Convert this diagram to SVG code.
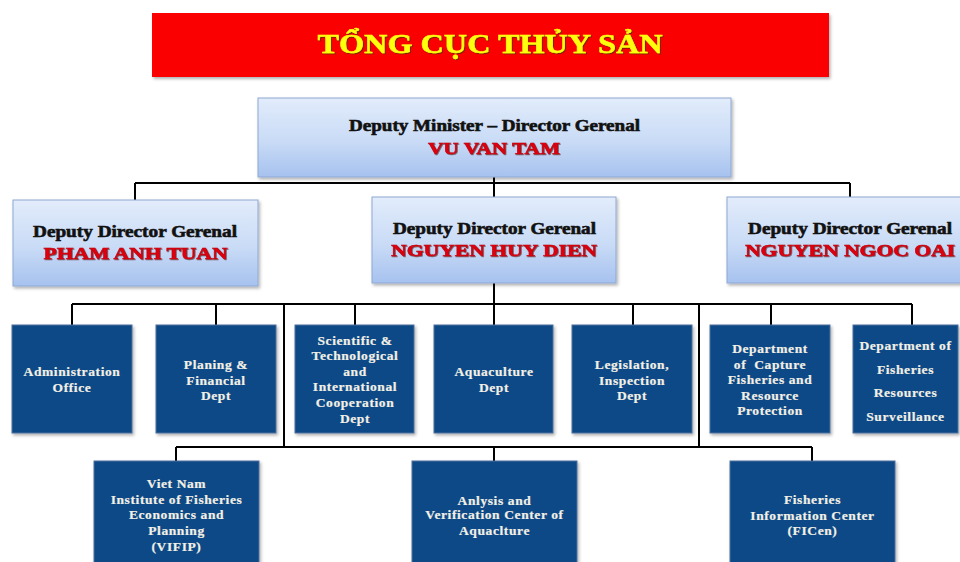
<svg xmlns="http://www.w3.org/2000/svg" width="960" height="562" viewBox="0 0 960 562">
  <defs>
    <linearGradient id="paleBlue" x1="0" y1="0" x2="0" y2="1">
      <stop offset="0" stop-color="#e2ecfb"/>
      <stop offset="0.55" stop-color="#c9dbf6"/>
      <stop offset="1" stop-color="#a6c2ef"/>
    </linearGradient>
    <filter id="shadow" x="-5%" y="-5%" width="112%" height="120%">
      <feDropShadow dx="1.5" dy="2" stdDeviation="1.5" flood-color="#000" flood-opacity="0.3"/>
    </filter>
    <filter id="glyphShadow" x="-5%" y="-20%" width="110%" height="150%">
      <feDropShadow dx="0.8" dy="0.8" stdDeviation="0.4" flood-color="#400" flood-opacity="0.7"/>
    </filter>
    <filter id="titleShadow" x="-5%" y="-20%" width="110%" height="150%">
      <feDropShadow dx="1" dy="1" stdDeviation="0.6" flood-color="#5a2a00" flood-opacity="0.8"/>
    </filter>
  </defs>
  <style>
    .banner { fill: #fb0000; }
    .title { font-family: "Liberation Serif", "Times New Roman", serif; font-weight: bold; font-size: 27px; fill: #ffff10; stroke: #ffff10; stroke-width: 0.5; text-anchor: middle; }
    .lead { fill: url(#paleBlue); stroke: #8ea8d2; stroke-width: 1; }
    .role { font-family: "Liberation Serif", "Times New Roman", serif; font-weight: bold; font-size: 17px; fill: #111; stroke: #111; stroke-width: 0.6; text-anchor: middle; }
    .name { font-family: "Liberation Serif", "Times New Roman", serif; font-weight: bold; font-size: 17px; fill: #e00010; stroke: #c0000c; stroke-width: 0.5; text-anchor: middle; }
    .dept { fill: #104887; stroke: #4d6f9c; stroke-width: 1; }
    .label { font-family: "Liberation Serif", "Times New Roman", serif; font-weight: bold; font-size: 13.5px; fill: #f3f0e6; stroke: #f3f0e6; stroke-width: 0.2; text-anchor: middle; letter-spacing: 0.6px; }
    .link { fill: none; stroke: #000; stroke-width: 2; }
  </style>

  <!-- heading banner -->
  <g id="banner">
    <rect class="banner" x="152" y="13" width="677" height="64" filter="url(#shadow)"/>
    <text class="title" x="490" y="53" textLength="345" lengthAdjust="spacingAndGlyphs" filter="url(#titleShadow)">TỔNG CỤC THỦY SẢN</text>
  </g>

  <!-- connectors -->
  <g id="connectors" class="link">
    <path d="M494 177 V183 M135 183 H850 M135 183 V200 M494 183 V197 M850 183 V197"/>
    <path d="M494 283 V304 M72 304 H912 M72 304 V325 M216 304 V325 M355 304 V325 M494 304 V325 M633 304 V325 M771 304 V325 M912 304 V325"/>
    <path d="M284 304 V447 M699 304 V447 M176 447 H812 M176 447 V461 M494 447 V461 M812 447 V461"/>
  </g>

  <!-- leadership -->
  <g id="director-general">
    <rect class="lead" x="258" y="98" width="473" height="79" filter="url(#shadow)"/>
    <text class="role" x="494.5" y="131" textLength="291" lengthAdjust="spacingAndGlyphs">Deputy Minister – Director Gerenal</text>
    <text class="name" x="494" y="154" textLength="132" lengthAdjust="spacingAndGlyphs" filter="url(#glyphShadow)">VU VAN TAM</text>
  </g>
  <g id="deputy-pham-anh-tuan">
    <rect class="lead" x="13" y="200" width="245" height="86" filter="url(#shadow)"/>
    <text class="role" x="135" y="237" textLength="204" lengthAdjust="spacingAndGlyphs">Deputy Director Gerenal</text>
    <text class="name" x="135.5" y="259" textLength="184" lengthAdjust="spacingAndGlyphs" filter="url(#glyphShadow)">PHAM ANH TUAN</text>
  </g>
  <g id="deputy-nguyen-huy-dien">
    <rect class="lead" x="372" y="197" width="244" height="86" filter="url(#shadow)"/>
    <text class="role" x="494.5" y="234" textLength="203" lengthAdjust="spacingAndGlyphs">Deputy Director Gerenal</text>
    <text class="name" x="494" y="256" textLength="206" lengthAdjust="spacingAndGlyphs" filter="url(#glyphShadow)">NGUYEN HUY DIEN</text>
  </g>
  <g id="deputy-nguyen-ngoc-oai">
    <rect class="lead" x="727" y="197" width="240" height="86" filter="url(#shadow)"/>
    <text class="role" x="850" y="234" textLength="204" lengthAdjust="spacingAndGlyphs">Deputy Director Gerenal</text>
    <text class="name" x="850" y="256" textLength="210" lengthAdjust="spacingAndGlyphs" filter="url(#glyphShadow)">NGUYEN NGOC OAI</text>
  </g>

  <!-- departments -->
  <g id="administration-office">
    <rect class="dept" x="12" y="325" width="120" height="108" filter="url(#shadow)"/>
    <text class="label" x="72" y="375.5">Administration</text>
    <text class="label" x="72" y="391.5">Office</text>
  </g>
  <g id="planning-financial">
    <rect class="dept" x="156" y="325" width="120" height="108" filter="url(#shadow)"/>
    <text class="label" x="216" y="368.5">Planing &amp;</text>
    <text class="label" x="216" y="384.5">Financial</text>
    <text class="label" x="216" y="399.5">Dept</text>
  </g>
  <g id="science-technology">
    <rect class="dept" x="295" y="325" width="119" height="108" filter="url(#shadow)"/>
    <text class="label" x="355" y="344.5">Scientific &amp;</text>
    <text class="label" x="355" y="360">Technological</text>
    <text class="label" x="355" y="375.5">and</text>
    <text class="label" x="355" y="391">International</text>
    <text class="label" x="355" y="407">Cooperation</text>
    <text class="label" x="355" y="422.5">Dept</text>
  </g>
  <g id="aquaculture">
    <rect class="dept" x="434" y="325" width="119" height="108" filter="url(#shadow)"/>
    <text class="label" x="494" y="375.5">Aquaculture</text>
    <text class="label" x="494" y="391.5">Dept</text>
  </g>
  <g id="legislation-inspection">
    <rect class="dept" x="572" y="325" width="120" height="108" filter="url(#shadow)"/>
    <text class="label" x="632" y="368.5">Legislation,</text>
    <text class="label" x="632" y="384.5">Inspection</text>
    <text class="label" x="632" y="399.5">Dept</text>
  </g>
  <g id="capture-fisheries">
    <rect class="dept" x="710" y="325" width="120" height="108" filter="url(#shadow)"/>
    <text class="label" x="770" y="352.5">Department</text>
    <text class="label" x="770" y="368.5" xml:space="preserve">of  Capture</text>
    <text class="label" x="770" y="383.5">Fisheries and</text>
    <text class="label" x="770" y="399.5">Resource</text>
    <text class="label" x="770" y="414.5">Protection</text>
  </g>
  <g id="resources-surveillance">
    <rect class="dept" x="853" y="325" width="105" height="108" filter="url(#shadow)"/>
    <text class="label" x="905.5" y="349.5">Department of</text>
    <text class="label" x="905.5" y="373.5">Fisheries</text>
    <text class="label" x="905.5" y="396.5">Resources</text>
    <text class="label" x="905.5" y="420.5">Surveillance</text>
  </g>

  <!-- affiliated centres -->
  <g id="vifip">
    <rect class="dept" x="94" y="461" width="165" height="110" filter="url(#shadow)"/>
    <text class="label" x="176.5" y="487.5">Viet Nam</text>
    <text class="label" x="176.5" y="503.5">Institute of Fisheries</text>
    <text class="label" x="176.5" y="518.5">Economics and</text>
    <text class="label" x="176.5" y="534.5">Planning</text>
    <text class="label" x="176.5" y="550.5">(VIFIP)</text>
  </g>
  <g id="aquaculture-verification">
    <rect class="dept" x="412" y="461" width="165" height="110" filter="url(#shadow)"/>
    <text class="label" x="494.5" y="504.5">Anlysis and</text>
    <text class="label" x="494.5" y="519">Verification Center of</text>
    <text class="label" x="494.5" y="534.5">Aquaclture</text>
  </g>
  <g id="ficen">
    <rect class="dept" x="730" y="461" width="165" height="110" filter="url(#shadow)"/>
    <text class="label" x="812.5" y="503.5">Fisheries</text>
    <text class="label" x="812.5" y="519.5">Information Center</text>
    <text class="label" x="812.5" y="534.5">(FICen)</text>
  </g>
</svg>
